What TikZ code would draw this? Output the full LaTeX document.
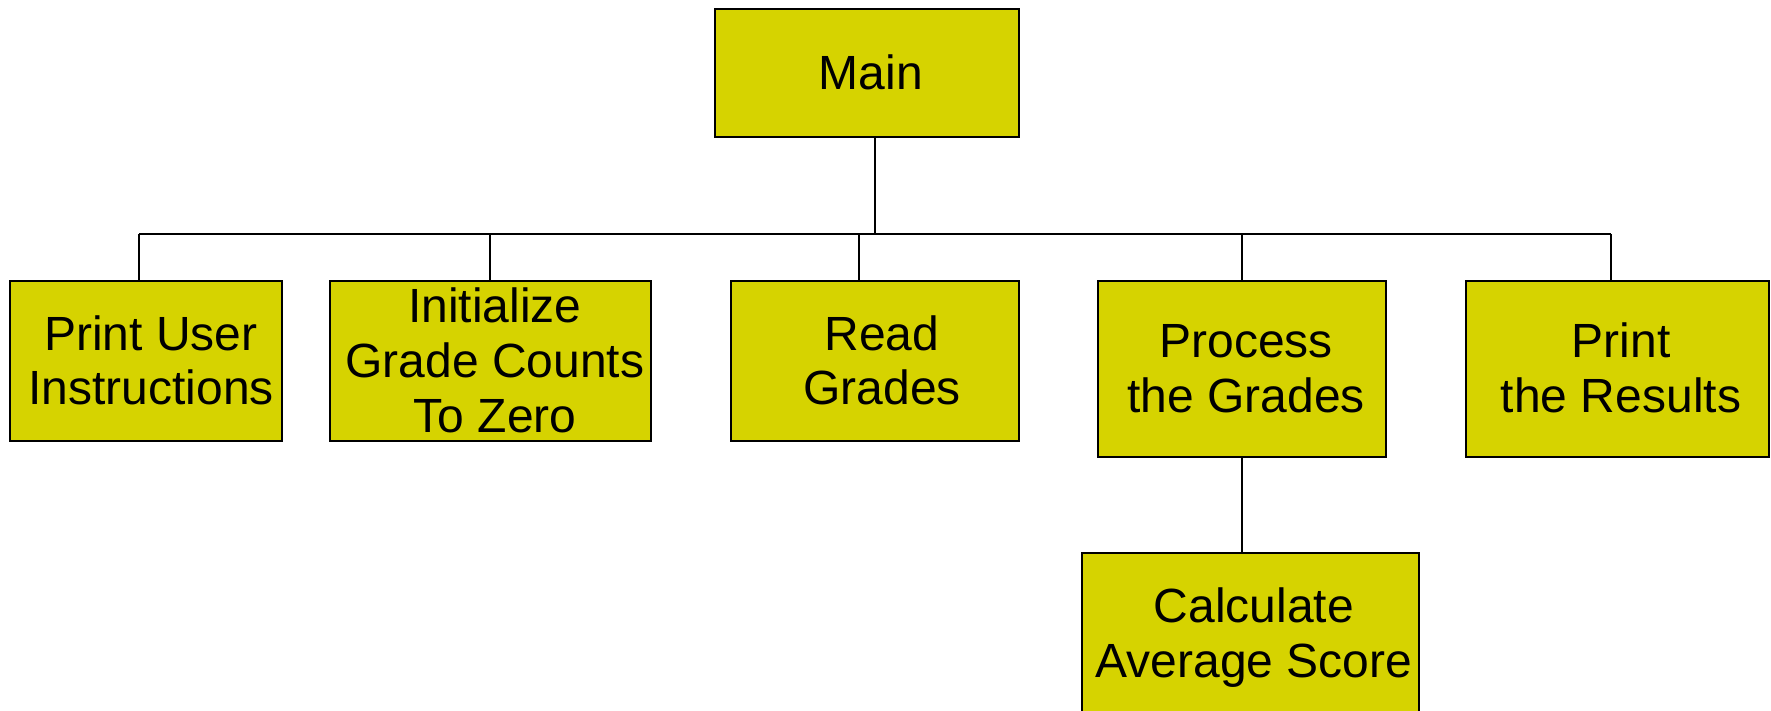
\documentclass[tikz,border=0pt]{standalone}
\usepackage{fontspec}
\setmainfont{Liberation Sans}
\definecolor{boxfill}{RGB}{214,211,0}
\newcommand{\stacklines}[1]{\begin{tabular}[t]{@{}c@{}}#1\end{tabular}}
\begin{document}
\begin{tikzpicture}[x=0.5pt,y=-0.5pt,
  box/.style={draw=black, line width=1.25pt, fill=boxfill, rectangle,
              inner sep=0pt, outer sep=0pt},
  lbl/.style={anchor=base, inner sep=0pt, outer sep=0pt,
              font=\fontsize{24}{27.5}\selectfont},
  wire/.style={draw=black, line width=1pt}]
\clip (0,0) rectangle (1771,711);

% module boxes
\node[box, minimum width=152pt,   minimum height=64pt]   (main) at (867,73)      {};
\node[box, minimum width=136pt,   minimum height=80pt]   (b1)   at (146,361)     {};
\node[box, minimum width=160.5pt, minimum height=80pt]   (b2)   at (490.5,361)   {};
\node[box, minimum width=144pt,   minimum height=80pt]   (b3)   at (875,361)     {};
\node[box, minimum width=144pt,   minimum height=88pt]   (b4)   at (1242,369)    {};
\node[box, minimum width=151.5pt, minimum height=88pt]   (b5)   at (1617.5,369)  {};
\node[box, minimum width=168.5pt, minimum height=88.5pt] (b6)   at (1250.5,641.5){};

% labels, placed at the baseline of their first line
\node[lbl] (t0) at (871,90)   {Main};
\node[lbl] (t1) at (151,350)  {\stacklines{Print User\\Instructions}};
\node[lbl] (t2) at (495,322)  {\stacklines{Initialize\\Grade Counts\\To Zero}};
\node[lbl] (t3) at (882,350)  {\stacklines{Read\\Grades}};
\node[lbl] (t4) at (1246,357) {\stacklines{Process\\the Grades}};
\node[lbl] (t5) at (1621,357) {\stacklines{Print\\the Results}};
\node[lbl] (t6) at (1254,622) {\stacklines{Calculate\\Average Score}};

% tie points on the horizontal bus
\coordinate (m0) at (875,234);
\coordinate (d1) at (139,234);
\coordinate (d2) at (490,234);
\coordinate (d3) at (859,234);
\coordinate (d4) at (1242,234);
\coordinate (d5) at (1611,234);

% connectors
\draw[wire] (m0 |- main.south) -- (m0);
\draw[wire] (d1) -- (d5);
\draw[wire] (d1) -- (d1 |- b1.north);
\draw[wire] (d2) -- (d2 |- b2.north);
\draw[wire] (d3) -- (d3 |- b3.north);
\draw[wire] (d4) -- (d4 |- b4.north);
\draw[wire] (d5) -- (d5 |- b5.north);
\draw[wire] (b4.south) -- (b4.south |- b6.north);
\end{tikzpicture}
\end{document}
